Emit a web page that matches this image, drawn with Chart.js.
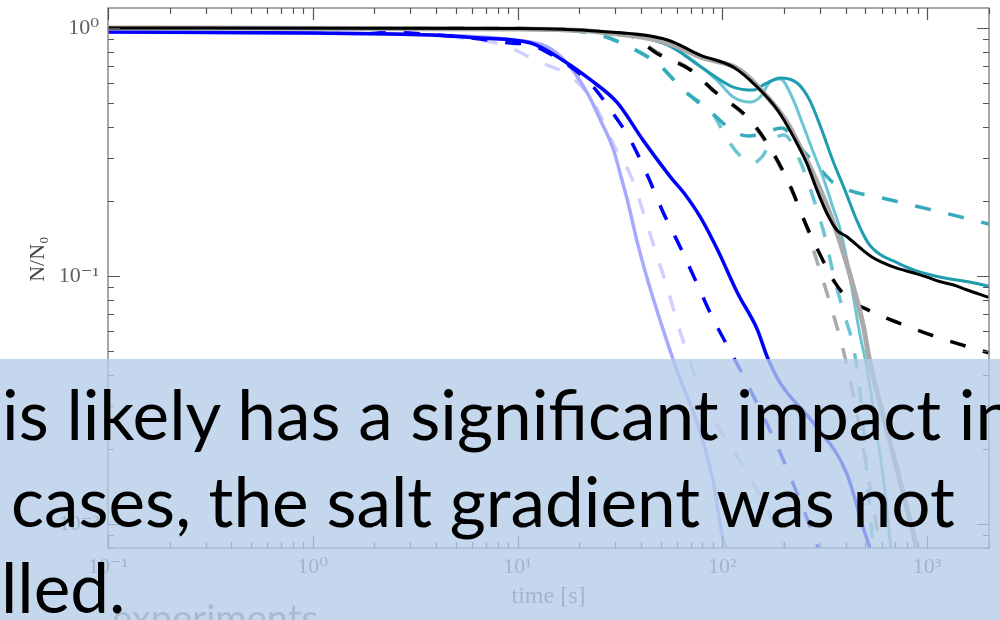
<!DOCTYPE html>
<html>
<head>
<meta charset="utf-8">
<script src="https://cdn.jsdelivr.net/npm/chart.js@4.4.1/dist/chart.umd.min.js"></script>
<style>
  html, body { margin: 0; padding: 0; background: #fff; }
  #wrap { position: relative; width: 1000px; height: 620px; overflow: hidden; }
  #chart { position: absolute; left: 0; top: 0; }
  #under { position: absolute; left: 112px; top: 0; font-family: Lato, sans-serif; color: #808080; white-space: pre; line-height: 1; }
  #overlay { position: absolute; left: 0; top: 359px; width: 1000px; height: 261px; background: rgba(180, 204, 232, 0.78); }
  .line { position: absolute; font-family: Lato, "Open Sans", sans-serif; color: #000; white-space: pre; line-height: 1; }
</style>
</head>
<body>
<div id="wrap">
  <canvas id="chart" width="1000" height="620"></canvas>
  <div id="under">experiments</div>
  <div id="overlay"></div>
  <div class="line" id="l1">is likely has a significant impact in</div>
  <div class="line" id="l2">cases, the salt gradient was not</div>
  <div class="line" id="l3">lled.</div>
</div>
<script>
// axis ticks (log scales)
const xMajor = [0.1, 1, 10, 100, 1000];
const xLabels = ['10⁻¹', '10⁰', '10¹', '10²', '10³'];
const yMajor = [0.01, 0.1, 1];
const yLabels = ['10⁻²', '10⁻¹', '10⁰'];

// series, [time s, N/N0]
const blueSolid = [[0.1,0.963],[1,0.955],[3.8,0.937],[6.6,0.911],[11.6,0.87],[16.7,0.74],[22.6,0.62],[30.7,0.5],[41,0.353],[56,0.25],[65,0.216],[78,0.173],[95,0.127],[119,0.085],[148,0.061],[166,0.047],[192,0.037],[278,0.0256],[405,0.016],[487,0.0097],[526,0.008]];
const blueDashed = [[1.9,0.988],[3,0.955],[6.1,0.91],[9.2,0.87],[11.6,0.854],[15.6,0.757],[19.6,0.665],[23.5,0.578],[28.5,0.467],[35.6,0.353],[43.5,0.25],[51.5,0.18],[62.5,0.13],[74,0.096],[89.5,0.068],[109,0.05],[132,0.037],[192,0.0193],[268,0.0098],[294,0.008]];
const paleSolid = [[0.1,0.963],[3.8,0.937],[9.5,0.895],[14,0.838],[17.5,0.72],[21.9,0.547],[25.4,0.425],[29.4,0.323],[32.5,0.24],[34.4,0.202],[38.5,0.136],[44.6,0.088],[51.5,0.0605],[57,0.047],[62.5,0.038],[75.5,0.0255],[90,0.015],[101,0.0086],[105,0.008]];
const paleDashed = [[0.1,0.963],[3.5,0.94],[6,0.9],[8.5,0.854],[12.7,0.73],[18.6,0.63],[23.5,0.5],[30,0.328],[35.6,0.255],[41.2,0.18],[47,0.127],[53.8,0.09],[60.2,0.065],[67.4,0.049],[78,0.0347],[97.7,0.0239],[130,0.0165],[183,0.0097],[203,0.008]];
const blackSolid = [[0.1,1.0],[10,0.995],[25,0.97],[54,0.895],[78,0.778],[113,0.696],[148,0.578],[186,0.467],[223,0.363],[258,0.286],[290,0.222],[324,0.179],[363,0.153],[406,0.144],[470,0.13],[540,0.119],[612,0.113],[700,0.108],[854,0.103],[1000,0.099],[1150,0.095],[1350,0.092],[1560,0.088],[2000,0.082]];
const blackDashed = [[0.1,1.0],[10,0.995],[25.4,0.963],[36.8,0.92],[48,0.79],[70,0.677],[90,0.562],[137,0.425],[177,0.314],[216,0.228],[253,0.165],[300,0.122],[355,0.094],[406,0.082],[526,0.0723],[823,0.0622],[1170,0.056],[2000,0.049]];
const graySolid = [[0.1,1.0],[10,0.99],[25,0.963],[54,0.87],[78,0.764],[122,0.677],[166,0.527],[208,0.414],[240,0.331],[277,0.26],[326,0.19],[377,0.136],[437,0.09],[490,0.062],[520,0.047],[590,0.0305],[700,0.0176],[826,0.0103],[890,0.008]];
const grayDashed = [[0.1,1.0],[10,0.995],[25,0.965],[37,0.92],[48,0.8],[70,0.68],[90,0.56],[137,0.42],[177,0.31],[216,0.225],[253,0.165],[285,0.12],[340,0.075],[400,0.046],[460,0.0263],[530,0.0137],[590,0.008]];
const tealSolid = [[0.27,1.0],[10,0.995],[25,0.965],[54,0.854],[78,0.7],[113,0.578],[142,0.562],[162,0.595],[192,0.629],[232,0.6],[267,0.512],[306,0.388],[346,0.293],[397,0.222],[453,0.168],[515,0.136],[590,0.122],[700,0.114],[854,0.106],[1150,0.099],[1560,0.095],[2000,0.091]];
const lightTealSolid = [[0.27,1.0],[10,0.995],[25,0.965],[54,0.854],[94,0.617],[113,0.527],[137,0.503],[153,0.527],[171,0.606],[192,0.623],[220,0.522],[248,0.406],[278,0.316],[311,0.249],[344,0.193],[377,0.153],[406,0.116],[437,0.082],[470,0.058],[510,0.042],[560,0.025],[620,0.014],[665,0.008]];
const tealDashed = [[0.27,1.0],[10,0.99],[23,0.955],[33,0.86],[49,0.71],[65,0.56],[90,0.45],[115,0.38],[135,0.367],[160,0.378],[195,0.395],[240,0.33],[300,0.27],[350,0.237],[450,0.217],[550,0.21],[800,0.195],[1200,0.18],[2000,0.162]];
const lightTealDashed = [[0.27,1.0],[10,0.99],[23,0.955],[33,0.86],[49,0.71],[65,0.56],[90,0.45],[105,0.36],[120,0.31],[140,0.285],[155,0.3],[175,0.35],[200,0.37],[240,0.29],[290,0.185],[320,0.14],[350,0.1],[390,0.072],[440,0.05],[480,0.029],[515,0.0137],[545,0.008]];

function makeSet(label, pts, color, width, dashed) {
  return {
    label: label,
    data: pts.map(p => ({x: p[0], y: p[1]})),
    borderColor: color,
    backgroundColor: color,
    borderWidth: width,
    borderDash: dashed ? [16, 18] : [],
    pointRadius: 0,
    fill: false,
    cubicInterpolationMode: 'monotone'
  };
}

// first dataset ends up on top
const sets = [
  makeSet('black', blackSolid, '#000000', 3),
  makeSet('gray', graySolid, '#aaaaaa', 5),
  makeSet('teal', tealSolid, '#1d9dae', 3),
  makeSet('light teal', lightTealSolid, '#6cc5d2', 3),
  makeSet('black dashed', blackDashed, '#000000', 3.5, true),
  makeSet('gray dashed', grayDashed, '#aaaaaa', 3.5, true),
  makeSet('teal dashed', tealDashed, '#35abbc', 3.5, true),
  makeSet('light teal dashed', lightTealDashed, '#6cc5d2', 3.5, true),
  makeSet('blue', blueSolid, '#0000ff', 3.5),
  makeSet('blue dashed', blueDashed, '#0000ff', 3.5, true),
  makeSet('pale blue', paleSolid, '#a8a8ff', 3.5),
  makeSet('pale blue dashed', paleDashed, '#d0d0ff', 3.5, true)
];

// frame, inward ticks on all four sides, y title
const frameTicks = {
  id: 'frameTicks',
  afterDraw(chart) {
    const ctx = chart.ctx;
    const a = chart.chartArea;
    const xs = chart.scales.x, ys = chart.scales.y;
    ctx.save();
    ctx.strokeStyle = '#8c8c8c';
    ctx.lineWidth = 1.5;
    ctx.strokeRect(a.left, a.top, a.right - a.left, a.bottom - a.top);
    ctx.strokeStyle = '#555';
    ctx.lineWidth = 1.2;
    ctx.beginPath();
    xMajor.forEach(d => {
      for (let k = 1; k <= 9; k++) {
        const v = d * k;
        if (v < xs.min || v > xs.max * 0.999) continue;
        const px = Math.round(xs.getPixelForValue(v)) + 0.5;
        const len = k === 1 ? 12 : 6;
        ctx.moveTo(px, a.bottom); ctx.lineTo(px, a.bottom - len);
        ctx.moveTo(px, a.top); ctx.lineTo(px, a.top + len);
      }
    });
    [0.001].concat(yMajor).forEach(d => {
      for (let k = 1; k <= 9; k++) {
        const v = d * k;
        if (v < ys.min || v > ys.max) continue;
        const py = Math.round(ys.getPixelForValue(v)) + 0.5;
        const len = k === 1 ? 12 : 6;
        ctx.moveTo(a.left, py); ctx.lineTo(a.left + len, py);
        ctx.moveTo(a.right, py); ctx.lineTo(a.right - len, py);
      }
    });
    ctx.stroke();
    ctx.translate(38, 259);
    ctx.rotate(-Math.PI / 2);
    ctx.fillStyle = '#444';
    ctx.font = '22px "Liberation Serif", serif';
    ctx.textAlign = 'center';
    ctx.textBaseline = 'middle';
    ctx.fillText('N/N₀', 0, 0);
    ctx.restore();
  }
};

const tickFont = {family: '"Liberation Serif", "DejaVu Serif", serif', size: 22};

new Chart(document.getElementById('chart'), {
  type: 'line',
  data: { datasets: sets },
  options: {
    responsive: false,
    animation: false,
    devicePixelRatio: 1,
    layout: { padding: { top: 8, right: 11, left: 0, bottom: 0 } },
    plugins: { legend: { display: false }, tooltip: { enabled: false } },
    scales: {
      x: {
        type: 'logarithmic',
        min: 0.1,
        max: 2006,
        grid: { display: false, drawTicks: false },
        border: { display: false },
        afterBuildTicks: s => { s.ticks = xMajor.map(v => ({value: v})); },
        afterFit: s => { s.height = 72; s.paddingLeft = 0; s.paddingRight = 0; },
        ticks: {
          autoSkip: false, maxRotation: 0, padding: 6,
          color: '#606060', font: tickFont,
          callback: (v, i) => xLabels[i]
        },
        title: {
          display: true, text: 'time [s]', color: '#606060',
          font: {family: '"Liberation Serif", serif', size: 24},
          padding: { top: 0, bottom: 9 }
        }
      },
      y: {
        type: 'logarithmic',
        min: 0.008,
        max: 1.204,
        grid: { display: false, drawTicks: false },
        border: { display: false },
        afterBuildTicks: s => { s.ticks = yMajor.map(v => ({value: v})); },
        afterFit: s => { s.width = 108; s.paddingTop = 0; s.paddingBottom = 0; },
        ticks: {
          autoSkip: false, padding: 9,
          color: '#606060', font: tickFont,
          callback: (v, i) => yLabels[i]
        }
      }
    }
  },
  plugins: [frameTicks]
});

// slide text on top: size the lines from the second line's width, then sit them on their baselines
function placeLine(el, left, baseline) {
  const mark = document.createElement('span');
  mark.style.display = 'inline-block';
  mark.style.width = '0';
  mark.style.height = '0';
  el.appendChild(mark);
  el.style.left = left + 'px';
  el.style.top = '0px';
  const off = mark.getBoundingClientRect().bottom - el.getBoundingClientRect().top;
  el.style.top = (baseline - off) + 'px';
}

const l1 = document.getElementById('l1');
const l2 = document.getElementById('l2');
const l3 = document.getElementById('l3');
l2.style.fontSize = '100px';
const size = 100 * 944 / l2.getBoundingClientRect().width;
[l1, l2, l3].forEach(el => { el.style.fontSize = size + 'px'; });
placeLine(l1, 2, 440);
placeLine(l2, 11, 527);
placeLine(l3, 1, 613);

const under = document.getElementById('under');
under.style.fontSize = '100px';
const usize = 100 * 206 / under.getBoundingClientRect().width;
under.style.fontSize = usize + 'px';
placeLine(under, 112, 613 + usize * 0.51);
</script>
</body>
</html>
